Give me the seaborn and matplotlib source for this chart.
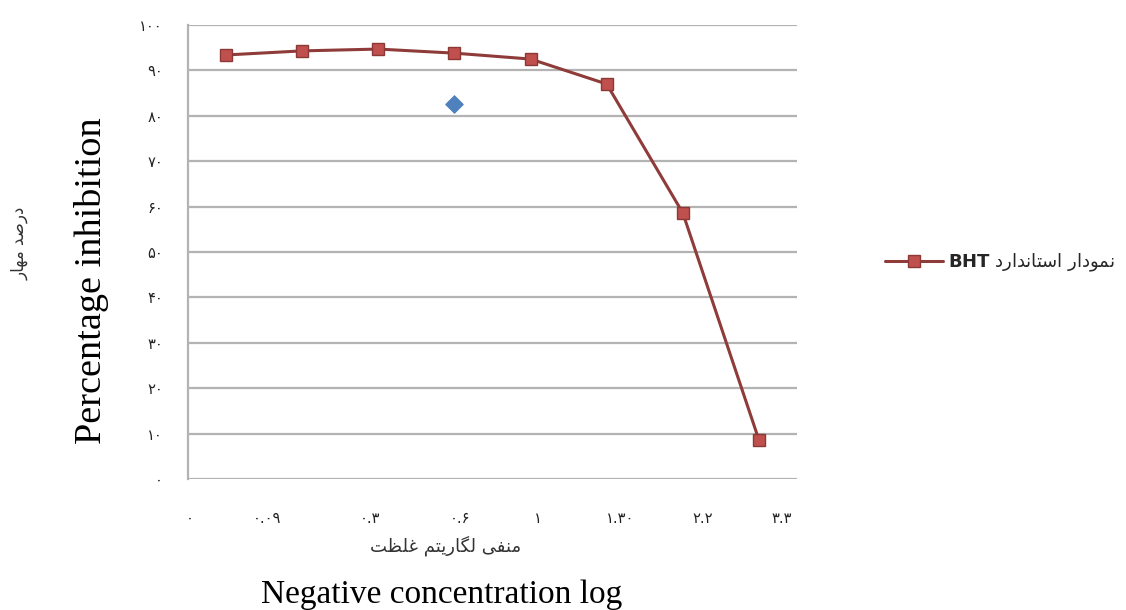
import matplotlib
matplotlib.use("Agg")
import matplotlib.pyplot as plt
import seaborn as sns
import numpy as np
import pandas as pd

# ---- data ----
categories = ["۰", "۰.۰۹", "۰.۳", "۰.۶", "۱", "۱.۳۰", "۲.۲", "۳.۳"]
bht_values = [93.4, 94.3, 94.7, 93.8, 92.5, 87.0, 58.6, 8.6]
sample_category = "۰.۶"
sample_value = 82.6
y_ticks = [0, 10, 20, 30, 40, 50, 60, 70, 80, 90, 100]
y_tick_labels = ["۰", "۱۰", "۲۰", "۳۰", "۴۰", "۵۰", "۶۰", "۷۰", "۸۰", "۹۰", "۱۰۰"]
legend_label = r"$\mathbf{BHT}$ ﺩﺭﺍﺪﻧﺎﺘﺳﺍ ﺭﺍﺩﻮﻤﻧ"   # نمودار استاندارد BHT
ylabel_fa = "ﺭﺎﻬﻣ ﺪﺻﺭﺩ"                          # درصد مهار
xlabel_fa = "ﺖﻈﻠﻏ ﻢﺘﻳﺭﺎﮕﻟ ﻰﻔﻨﻣ"                  # منفی لگاریتم غلظت
ylabel_en = "Percentage inhibition"
xlabel_en = "Negative concentration log"

# ---- styling ----
sns.set_theme(style="white")
plt.rcParams["font.family"] = ["DejaVu Sans"]
plt.rcParams["mathtext.fontset"] = "dejavusans"

fig = plt.figure(figsize=(11.26, 6.10), dpi=100)
ax = fig.add_axes([188 / 1126, 1 - 479 / 610, (797 - 188) / 1126, (479 - 25) / 610])

df = pd.DataFrame({"idx": np.arange(len(categories)), "cat": categories, "val": bht_values})
sns.lineplot(data=df, x="idx", y="val", ax=ax, color="#8e3b3a", linewidth=2.2,
             marker="s", markersize=9, markerfacecolor="#c0504d",
             markeredgecolor="#8c3836", markeredgewidth=1, label=legend_label, zorder=3)

sdf = pd.DataFrame({"idx": [categories.index(sample_category)], "val": [sample_value]})
sns.scatterplot(data=sdf, x="idx", y="val", ax=ax, marker="D", s=80, color="#4f81bd",
                edgecolor="#4f81bd", zorder=4, legend=False)

ax.set_xlim(-0.5, len(categories) - 0.5)
ax.set_ylim(0, 100)
ax.set_yticks(y_ticks)
ax.set_yticklabels(y_tick_labels, fontsize=10.5, color="#222222")
# measured label positions (layout)
label_px = [190, 267, 370, 460, 538, 620, 702, 782]
ax.set_xticks([(p - 188) / 76.1 - 0.5 for p in label_px])
ax.set_xticklabels(categories, fontsize=10.5, color="#222222")
ax.tick_params(axis="y", length=0, pad=18)
ax.tick_params(axis="x", length=0, pad=23)

ax.yaxis.grid(True, color="#b3b3b3", linewidth=1.6)
ax.xaxis.grid(False)
for s in ["top", "right", "bottom"]:
    ax.spines[s].set_visible(False)
ax.spines["left"].set_color("#b3b3b3")
ax.spines["left"].set_linewidth(1.6)
ax.set_xlabel("")
ax.set_ylabel("")

# axis titles
fig.text(446 / 1126, 1 - 546 / 610, xlabel_fa, ha="center", va="center", fontsize=13, color="#333333")
fig.text(20 / 1126, 1 - 243 / 610, ylabel_fa, ha="center", va="center", rotation=90, fontsize=12, color="#333333")
fig.text(92 / 1126, 1 - 281 / 610, ylabel_en, ha="center", va="center", rotation=90,
         fontsize=27.5, family="Liberation Serif", color="black")
fig.text(442 / 1126, 1 - 595 / 610, xlabel_en, ha="center", va="center",
         fontsize=24, family="Liberation Serif", color="black")

leg = ax.legend(loc="center left", bbox_to_anchor=(876 / 1126, 1 - 263 / 610),
                bbox_transform=fig.transFigure, frameon=False, fontsize=13,
                handlelength=3.2, handletextpad=0.3, borderpad=0)

fig.savefig("out.png", dpi=100)
